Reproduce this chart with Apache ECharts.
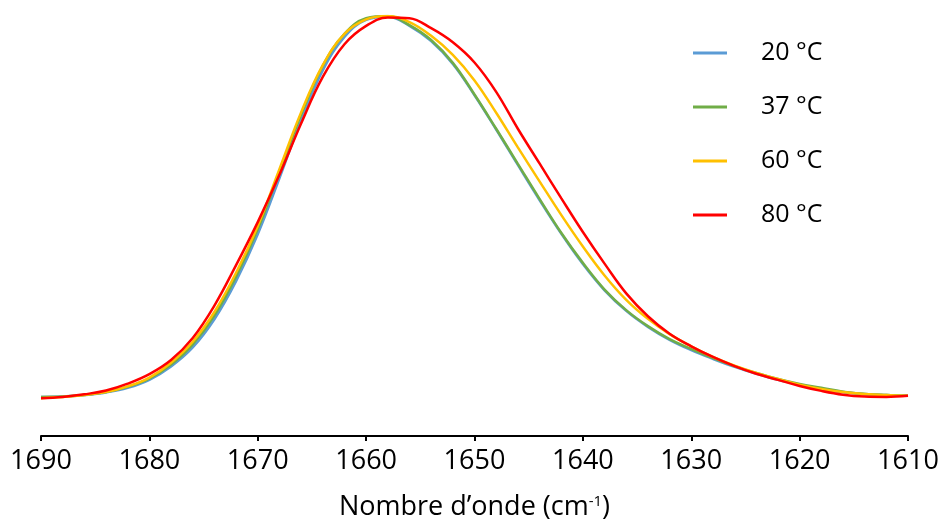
<!DOCTYPE html>
<html>
<head>
<meta charset="utf-8">
<script src="https://cdn.jsdelivr.net/npm/echarts@6/dist/echarts.min.js"></script>
<style>
  html, body { margin: 0; padding: 0; background: #fff; }
  #chart { width: 948px; height: 520px; }
</style>
</head>
<body>
<div id="chart"></div>
<script>
// nombre d'onde (cm-1)
var wavenumbers = [1690, 1688, 1686, 1684, 1682, 1680, 1678, 1676, 1674, 1672,
  1670, 1668, 1666, 1664, 1662, 1660, 1658, 1656, 1654, 1652,
  1650, 1648, 1646, 1644, 1642, 1640, 1638, 1636, 1634, 1632,
  1630, 1628, 1626, 1624, 1622, 1620, 1618, 1616, 1614, 1612, 1610];

// absorbance normalisee
var abs20 = [0.000, 0.001, 0.005, 0.012, 0.024, 0.045, 0.080, 0.130, 0.204, 0.304,
  0.427, 0.574, 0.726, 0.857, 0.945, 0.990, 0.998, 0.974, 0.934, 0.874,
  0.792, 0.702, 0.609, 0.517, 0.429, 0.349, 0.280, 0.226, 0.184, 0.150,
  0.123, 0.100, 0.079, 0.061, 0.045, 0.032, 0.021, 0.013, 0.008, 0.005, 0.003];
var abs37 = [0.000, 0.001, 0.005, 0.013, 0.027, 0.048, 0.085, 0.138, 0.214, 0.316,
  0.440, 0.590, 0.741, 0.869, 0.953, 0.994, 1.000, 0.976, 0.937, 0.877,
  0.794, 0.704, 0.612, 0.520, 0.431, 0.352, 0.282, 0.228, 0.186, 0.152,
  0.126, 0.102, 0.081, 0.063, 0.047, 0.034, 0.024, 0.014, 0.008, 0.005, 0.003];
var abs60 = [-0.003, 0.000, 0.005, 0.013, 0.028, 0.051, 0.090, 0.145, 0.223, 0.326,
  0.449, 0.598, 0.747, 0.871, 0.953, 0.991, 1.000, 0.984, 0.948, 0.898,
  0.831, 0.746, 0.655, 0.566, 0.478, 0.395, 0.319, 0.255, 0.205, 0.165,
  0.133, 0.105, 0.082, 0.063, 0.047, 0.032, 0.021, 0.013, 0.008, 0.005, 0.003];
var abs80 = [-0.003, 0.000, 0.007, 0.017, 0.035, 0.060, 0.097, 0.155, 0.240, 0.346,
  0.459, 0.583, 0.718, 0.840, 0.926, 0.974, 0.996, 0.994, 0.968, 0.931,
  0.878, 0.801, 0.704, 0.613, 0.522, 0.433, 0.350, 0.272, 0.212, 0.166,
  0.133, 0.105, 0.081, 0.061, 0.045, 0.029, 0.016, 0.006, 0.001, 0.000, 0.003];

var seriesNames = ['20 °C', '37 °C', '60 °C', '80 °C'];
var seriesColors = ['#5B9BD5', '#70AD47', '#FFC000', '#FF0000'];
var seriesValues = [abs20, abs37, abs60, abs80];

var font = '"Open Sans", "Noto Sans", sans-serif';

var chart = echarts.init(document.getElementById('chart'));

var series = seriesNames.map(function (name, i) {
    return {
        name: name,
        type: 'line',
        showSymbol: false,
        symbol: 'none',
        smooth: 0.4,
        lineStyle: { color: seriesColors[i], width: 2.5 },
        itemStyle: { color: seriesColors[i] },
        data: wavenumbers.map(function (w, k) { return [w, seriesValues[i][k]]; })
    };
});

chart.setOption({
    animation: false,
    backgroundColor: '#fff',
    grid: { left: 41, right: 40, top: 16, bottom: 84, containLabel: false, outerBoundsMode: 'none' },
    legend: {
        orient: 'vertical',
        left: 688,
        top: 33,
        icon: 'rect',
        itemWidth: 34,
        itemHeight: 3,
        itemGap: 24,
        data: seriesNames,
        textStyle: {
            fontFamily: font,
            fontSize: 25,
            color: '#000',
            lineHeight: 30,
            padding: [0, 0, 0, 29]
        }
    },
    xAxis: {
        type: 'value',
        inverse: true,
        min: 1610,
        max: 1690,
        interval: 10,
        name: '{a|Nombre d’onde (cm}{b|-1}{a|)}',
        nameLocation: 'middle',
        nameGap: 58,
        nameTextStyle: {
            rich: {
                a: { fontFamily: font, fontSize: 27, color: '#000' },
                b: { fontFamily: font, fontSize: 15, color: '#000', verticalAlign: 'top' }
            }
        },
        axisLine: { onZero: false, lineStyle: { color: '#000', width: 2 } },
        axisTick: { show: true, length: 5, lineStyle: { color: '#000', width: 2 } },
        axisLabel: {
            fontFamily: font,
            fontSize: 27,
            color: '#000',
            margin: 12,
            formatter: function (v) { return String(v); }
        },
        splitLine: { show: false }
    },
    yAxis: {
        type: 'value',
        show: false,
        min: -0.1024,
        max: 1
    },
    series: series
});
</script>
</body>
</html>
